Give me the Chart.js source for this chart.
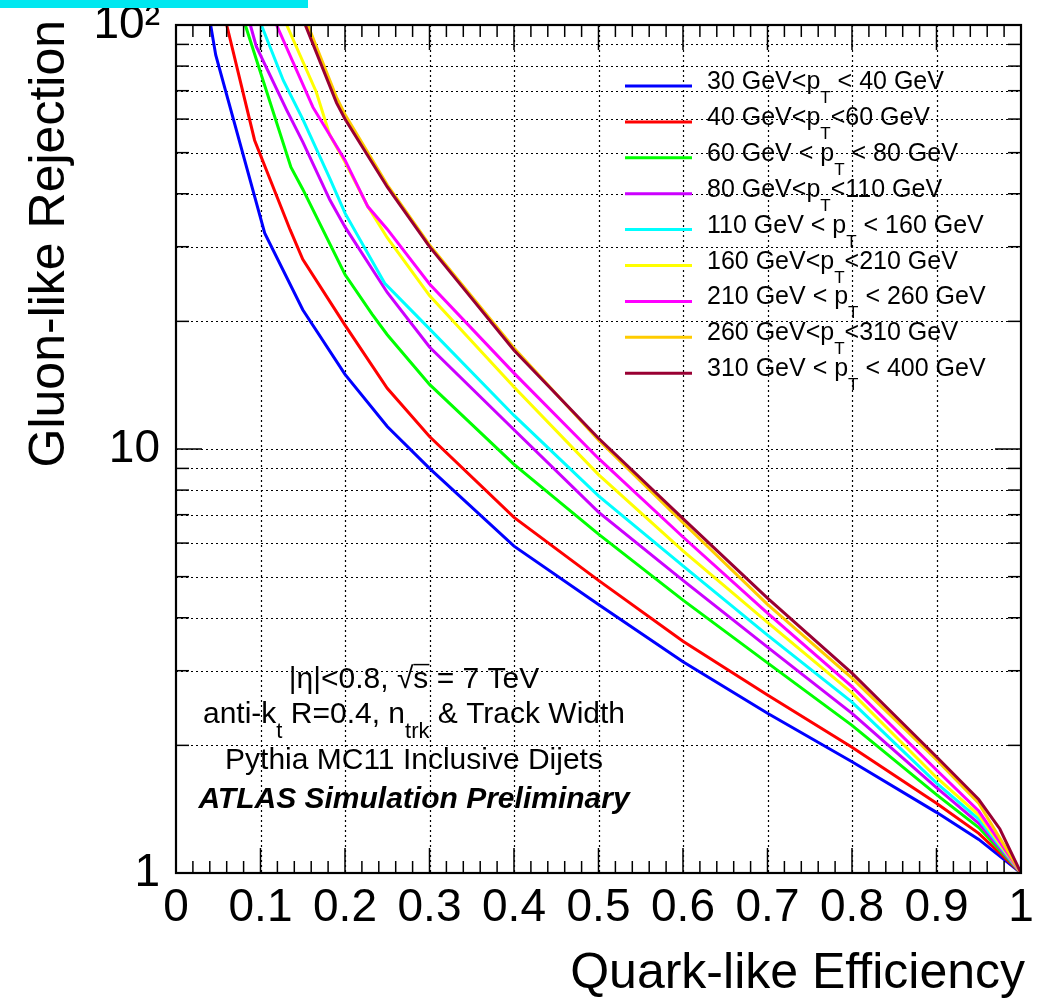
<!DOCTYPE html>
<html>
<head>
<meta charset="utf-8">
<style>
html,body{margin:0;padding:0;background:#fff;}
#wrap{position:relative;width:1047px;height:998px;overflow:hidden;}
canvas{display:block;}
#bar{position:absolute;left:0;top:0;width:308px;height:8px;background:#00e8f0;}
</style>
<script src="https://cdn.jsdelivr.net/npm/chart.js@4.4.0/dist/chart.umd.min.js"></script>
</head>
<body>
<div id="wrap"><canvas id="c" width="1047" height="998"></canvas><div id="bar"></div></div>
<script>
// ---------------- data ----------------
const seriesLabels = [
  ["30 GeV<p", "T", " < 40 GeV"],
  ["40 GeV<p", "T", "<60 GeV"],
  ["60 GeV < p", "T", " < 80 GeV"],
  ["80 GeV<p", "T", "<110 GeV"],
  ["110 GeV < p", "T", " < 160 GeV"],
  ["160 GeV<p", "T", "<210 GeV"],
  ["210 GeV < p", "T", " < 260 GeV"],
  ["260 GeV<p", "T", "<310 GeV"],
  ["310 GeV < p", "T", " < 400 GeV"]
];
const seriesColors = ["#0000ff","#ff0000","#00ff00","#cc00ff","#00ffff","#ffff00","#ff00ff","#ffcc00","#990033"];

const eff30  = [0.041,0.047,0.105,0.15,0.2,0.25,0.3,0.4,0.5,0.6,0.7,0.8,0.9,0.95,1.0];
const rej30  = [100,85,32.3,21.3,15.0,11.3,9.0,5.9,4.3,3.15,2.38,1.83,1.39,1.2,1.0];
const eff40  = [0.060,0.093,0.135,0.15,0.2,0.25,0.3,0.4,0.5,0.6,0.7,0.8,0.9,0.95,1.0];
const rej40  = [100,53.5,32.9,28,19.6,13.9,10.7,6.9,4.9,3.52,2.63,1.98,1.46,1.24,1.0];
const eff60  = [0.082,0.136,0.15,0.2,0.232,0.25,0.3,0.4,0.5,0.6,0.7,0.8,0.9,0.95,1.0];
const rej60  = [100,46.2,41,25.8,20.8,18.6,14.2,9.2,6.3,4.4,3.13,2.23,1.53,1.28,1.0];
const eff80  = [0.088,0.095,0.131,0.15,0.182,0.2,0.25,0.3,0.4,0.5,0.6,0.7,0.8,0.9,0.95,1.0];
const rej80  = [100,89,63,53,38.7,33.4,23.4,17.4,11.1,7.1,4.9,3.41,2.38,1.59,1.31,1.0];
const eff110 = [0.101,0.127,0.15,0.182,0.2,0.247,0.3,0.4,0.5,0.6,0.7,0.8,0.9,0.95,1.0];
const rej110 = [100,74,60,43.5,36,24.6,19.2,12.0,7.75,5.3,3.64,2.53,1.63,1.34,1.0];
const eff160 = [0.131,0.166,0.182,0.2,0.227,0.25,0.3,0.4,0.5,0.6,0.7,0.8,0.9,0.95,1.0];
const rej160 = [100,69.5,55,47.5,37.3,31.5,23,14.0,8.7,5.75,3.9,2.66,1.68,1.37,1.0];
const eff210 = [0.119,0.162,0.182,0.2,0.227,0.25,0.3,0.4,0.5,0.6,0.7,0.8,0.9,0.95,1.0];
const rej210 = [100,64,55,48,37.3,33,24.5,15.1,9.5,6.2,4.1,2.75,1.75,1.40,1.0];
const eff260 = [0.156,0.19,0.2,0.25,0.3,0.4,0.5,0.6,0.7,0.8,0.9,0.95,1.0];
const rej260 = [100,67.5,61.5,42,30.3,17.3,10.5,6.7,4.3,2.88,1.85,1.46,1.0];
const eff310 = [0.153,0.19,0.2,0.25,0.3,0.4,0.5,0.6,0.7,0.8,0.9,0.95,0.975,1.0];
const rej310 = [100,65.5,60,41.5,30,17.1,10.6,6.85,4.45,2.96,1.88,1.49,1.27,1.0];

const xTickValues = [0,0.1,0.2,0.3,0.4,0.5,0.6,0.7,0.8,0.9,1];
const yLabelValues = [1,10,100];
const yLabelTexts = ["1","10","10\u00B2"];

const effs = [eff30,eff40,eff60,eff80,eff110,eff160,eff210,eff260,eff310];
const rejs = [rej30,rej40,rej60,rej80,rej110,rej160,rej210,rej260,rej310];

// ---------------- chart ----------------
const FAM = '"Liberation Sans", Arial, Helvetica, sans-serif';

const datasets = effs.map((e,i)=>({
  label: seriesLabels[i].join(""),
  data: e.map((xv,k)=>({x:xv, y:rejs[i][k]})),
  borderColor: seriesColors[i],
  backgroundColor: seriesColors[i],
  borderWidth: 3,
  pointRadius: 0,
  tension: 0,
  fill: false,
  order: effs.length - 1 - i
}));

function richText(ctx, parts, x, y, size, opt){
  opt = opt || {};
  const style = opt.style || "";
  const subScale = opt.subScale || 0.7, subDy = opt.subDy || 0.5;
  const fonts = parts.map(p => `${style} ${p.sub ? Math.round(size*subScale) : size}px ${FAM}`);
  const widths = parts.map((p,i)=>{ ctx.font = fonts[i]; return ctx.measureText(p.t).width; });
  const total = widths.reduce((a,b)=>a+b,0);
  let cx = opt.align === "center" ? x - total/2 : x;
  ctx.textAlign = "left"; ctx.textBaseline = "alphabetic"; ctx.fillStyle = "#000";
  parts.forEach((p,i)=>{
    ctx.font = fonts[i];
    const yy = p.sub ? y + size*subDy : y;
    ctx.fillText(p.t, cx, yy);
    if (p.over){
      ctx.save(); ctx.strokeStyle="#000"; ctx.lineWidth=1.5;
      ctx.beginPath(); ctx.moveTo(cx, y - size*0.78); ctx.lineTo(cx+widths[i]+1, y - size*0.78); ctx.stroke();
      ctx.restore();
    }
    cx += widths[i];
  });
}

const rootStyle = {
  id: "rootStyle",
  beforeDatasetsDraw(chart){
    const {ctx, chartArea:a, scales:{x,y}} = chart;
    ctx.save();
    ctx.strokeStyle = "#000"; ctx.lineWidth = 1.2; ctx.setLineDash([2,3]);
    for (let i=1;i<10;i++){
      const px = Math.round(x.getPixelForValue(i/10))+0.5;
      ctx.beginPath(); ctx.moveTo(px,a.top); ctx.lineTo(px,a.bottom); ctx.stroke();
    }
    for (const dec of [1,10]){
      for (let m=1; m<10; m++){
        const v = dec*m; if (v===1) continue;
        const py = Math.round(y.getPixelForValue(v))+0.5;
        ctx.beginPath(); ctx.moveTo(a.left,py); ctx.lineTo(a.right,py); ctx.stroke();
      }
    }
    ctx.restore();
  },
  afterDatasetsDraw(chart){
    const {ctx, chartArea:a, scales:{x,y}} = chart;
    ctx.save();
    ctx.strokeStyle="#000"; ctx.setLineDash([]);
    ctx.lineWidth = 1.5;
    for (let i=1;i<50;i++){
      const px = x.getPixelForValue(i/50);
      const major = i%5===0;
      const lb = major?25:12, lt = major?25:12;
      ctx.beginPath(); ctx.moveTo(px,a.bottom); ctx.lineTo(px,a.bottom-lb); ctx.stroke();
      ctx.beginPath(); ctx.moveTo(px,a.top); ctx.lineTo(px,a.top+lt); ctx.stroke();
    }
    for (const dec of [1,10]){
      for (let m=1; m<10; m++){
        const v = dec*m; if (v===1) continue;
        const py = y.getPixelForValue(v);
        const len = (v===10)?26:13;
        ctx.beginPath(); ctx.moveTo(a.left,py); ctx.lineTo(a.left+len,py); ctx.stroke();
        ctx.beginPath(); ctx.moveTo(a.right,py); ctx.lineTo(a.right-len,py); ctx.stroke();
      }
    }
    ctx.lineWidth = 2.2;
    ctx.strokeRect(a.left, a.top, a.right-a.left, a.bottom-a.top);
    ctx.restore();
  },
  afterDraw(chart){
    const {ctx} = chart;
    ctx.save();
    const lx0 = 625, lx1 = 692, ly0 = 86, dy = 35.9;
    seriesLabels.forEach((lab,i)=>{
      const yy = ly0 + i*dy;
      ctx.strokeStyle = seriesColors[i]; ctx.lineWidth = 3; ctx.setLineDash([]);
      ctx.beginPath(); ctx.moveTo(lx0,yy); ctx.lineTo(lx1,yy); ctx.stroke();
      richText(ctx, [{t:lab[0]},{t:lab[1],sub:true},{t:lab[2]}], 707, yy+3, 25, {subScale:0.68, subDy:0.56});
    });
    const cx = 414;
    richText(ctx, [{t:"|\u03B7|<0.8, \u221A"},{t:"s",over:true},{t:" = 7 TeV"}], cx, 688, 30, {align:"center"});
    richText(ctx, [{t:"anti-k"},{t:"t",sub:true},{t:" R=0.4, n"},{t:"trk",sub:true},{t:" & Track Width"}], cx, 723, 30, {align:"center", subScale:0.72, subDy:0.5});
    richText(ctx, [{t:"Pythia MC11 Inclusive Dijets"}], cx, 769, 30, {align:"center"});
    richText(ctx, [{t:"ATLAS Simulation Preliminary"}], cx, 808, 30, {align:"center", style:"italic bold"});
    ctx.fillStyle="#000";
    ctx.font = `50px ${FAM}`;
    ctx.textAlign = "right"; ctx.textBaseline = "alphabetic";
    ctx.fillText("Quark-like Efficiency", 1025, 988);
    ctx.save();
    ctx.translate(64, 20);
    ctx.rotate(-Math.PI/2);
    ctx.textAlign = "right";
    ctx.fillText("Gluon-like Rejection", 0, 0);
    ctx.restore();
    ctx.restore();
  }
};

new Chart(document.getElementById("c").getContext("2d"), {
  type: "line",
  data: { datasets },
  options: {
    responsive: false,
    animation: false,
    devicePixelRatio: 1,
    layout: { padding: { left: 0, right: 26, top: 25, bottom: 0 } },
    plugins: { legend: { display: false }, tooltip: { enabled: false } },
    scales: {
      x: {
        type: "linear", min: 0, max: 1,
        afterBuildTicks: s => { s.ticks = xTickValues.map(v=>({value:v})); },
        ticks: {
          color: "#000", padding: 8, maxRotation: 0, autoSkip: false,
          font: { family: FAM, size: 46 },
          callback: v => (v===0 ? "0" : v===1 ? "1" : (+v).toFixed(1))
        },
        grid: { display: false, drawTicks: false },
        border: { display: false },
        afterFit: s => { s.height = 125; s.paddingLeft = 0; s.paddingRight = 0; }
      },
      y: {
        type: "logarithmic", min: 1, max: 100,
        afterBuildTicks: s => { s.ticks = yLabelValues.map(v=>({value:v})); },
        ticks: {
          color: "#000", padding: 16, autoSkip: false,
          font: { family: FAM, size: 46 },
          callback: v => { const k = yLabelValues.indexOf(v); return k>=0 ? yLabelTexts[k] : ""; }
        },
        grid: { display: false, drawTicks: false },
        border: { display: false },
        afterFit: s => { s.width = 176; s.paddingTop = 0; s.paddingBottom = 0; }
      }
    }
  },
  plugins: [rootStyle]
});
</script>
</body>
</html>
